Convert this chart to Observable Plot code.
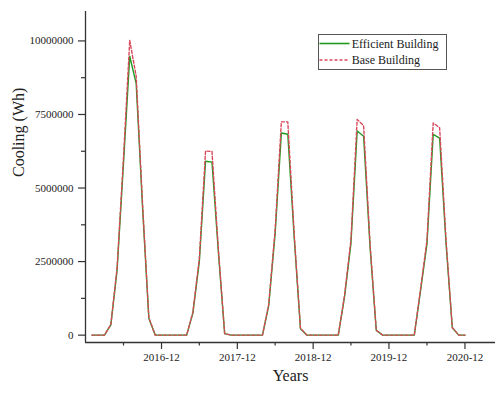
<!DOCTYPE html>
<html><head><meta charset="utf-8">
<script src="https://cdn.jsdelivr.net/npm/d3@7"></script>
<script src="https://cdn.jsdelivr.net/npm/@observablehq/plot@0.6"></script>
<style>
body{margin:0;background:#fff}
#wrap{position:relative;width:502px;height:397px}
#legend{position:absolute;left:318px;top:34px}
</style>
</head><body><div id="wrap"></div>
<script>
const months = [
 "2016-01","2016-02","2016-03","2016-04","2016-05","2016-06","2016-07","2016-08","2016-09","2016-10","2016-11","2016-12",
 "2017-01","2017-02","2017-03","2017-04","2017-05","2017-06","2017-07","2017-08","2017-09","2017-10","2017-11","2017-12",
 "2018-01","2018-02","2018-03","2018-04","2018-05","2018-06","2018-07","2018-08","2018-09","2018-10","2018-11","2018-12",
 "2019-01","2019-02","2019-03","2019-04","2019-05","2019-06","2019-07","2019-08","2019-09","2019-10","2019-11","2019-12",
 "2020-01","2020-02","2020-03","2020-04","2020-05","2020-06","2020-07","2020-08","2020-09","2020-10","2020-11","2020-12"
];
const efficient = [
 0,0,0,350000,2200000,5850000,9480000,8550000,4300000,570000,0,0,
 0,0,0,0,750000,2500000,5910000,5880000,2800000,50000,0,0,
 0,0,0,0,1000000,3450000,6870000,6830000,3300000,220000,0,0,
 0,0,0,0,1290000,3120000,6940000,6760000,3000000,160000,0,0,
 0,0,0,0,1500000,3100000,6820000,6700000,3100000,250000,0,0
];
const base = [
 0,0,0,360000,2280000,6050000,10020000,8800000,4420000,590000,0,0,
 0,0,0,0,780000,2600000,6260000,6240000,2900000,52000,0,0,
 0,0,0,0,1040000,3580000,7250000,7250000,3420000,230000,0,0,
 0,0,0,0,1340000,3240000,7330000,7120000,3110000,165000,0,0,
 0,0,0,0,1560000,3220000,7210000,7050000,3220000,260000,0,0
];
const seriesNames = ["Efficient Building", "Base Building"];
const xTickLabels = ["2016-12","2017-12","2018-12","2019-12","2020-12"];
const xMinorTicks = ["2016-06","2017-06","2018-06","2019-06","2020-06"];
const yTicks = [0, 2500000, 5000000, 7500000, 10000000];
const yMinorTicks = [1250000, 3750000, 6250000, 8750000];
const xDomainStr = ["2015-12-01", "2021-04-27"];
const yDomain = [-250000, 11000000];

const green = "#1f9a1f";
const red = "#d9485a";
const ink = "#222";
const font = "'Liberation Serif','Times New Roman',serif";

const pm = d3.utcParse("%Y-%m");
const pd = d3.utcParse("%Y-%m-%d");
const xDomain = xDomainStr.map(pd);
const effRows = months.map((m, i) => ({date: pm(m), value: efficient[i]}));
const baseRows = months.map((m, i) => ({date: pm(m), value: base[i]}));

const chart = Plot.plot({
  width: 502, height: 397,
  marginLeft: 85, marginRight: 7, marginTop: 11, marginBottom: 55,
  style: {fontFamily: font, fontSize: "11px", color: ink, background: "#fff"},
  x: {type: "utc", domain: xDomain},
  y: {domain: yDomain},
  marks: [
    Plot.axisY(yTicks, {tickSize: 7, tickPadding: 5, tickFormat: d3.format("d"), label: null, stroke: "#333", strokeWidth: 1.2}),
    Plot.axisY(yMinorTicks, {tickSize: 4, tickFormat: () => "", label: null, stroke: "#333", strokeWidth: 1.2}),
    Plot.axisX(xTickLabels.map(pm), {tickSize: 7, tickPadding: 4, tickFormat: d3.utcFormat("%Y-%m"), label: null, stroke: "#333", strokeWidth: 1.2}),
    Plot.axisX(xMinorTicks.map(pm), {tickSize: 3.5, tickFormat: () => "", label: null, stroke: "#333", strokeWidth: 1.2}),
    Plot.ruleX([xDomain[0]], {stroke: "#333", strokeWidth: 1.3}),
    Plot.ruleY([yDomain[0]], {stroke: "#333", strokeWidth: 1.3}),
    Plot.line(effRows, {x: "date", y: "value", stroke: green, strokeWidth: 1.4}),
    Plot.line(baseRows, {x: "date", y: "value", stroke: red, strokeWidth: 1.4, strokeDasharray: "3,2"}),
    Plot.text(["Years"], {text: d => d, frameAnchor: "bottom", dy: 38, fontSize: 16, fill: ink}),
    Plot.text(["Cooling (Wh)"], {text: d => d, frameAnchor: "left", dx: -67, rotate: -90, fontSize: 16, fill: ink})
  ]
});
const wrap = document.getElementById("wrap");
wrap.appendChild(chart);

const ns = "http://www.w3.org/2000/svg";
const leg = document.createElementNS(ns, "svg");
leg.setAttribute("id", "legend");
leg.setAttribute("width", 130);
leg.setAttribute("height", 37);
leg.setAttribute("font-family", font);
leg.setAttribute("font-size", "12");
leg.innerHTML = `
 <rect x="0.5" y="0.5" width="128" height="35" fill="#fff" stroke="#555" stroke-width="1"/>
 <line x1="1.5" x2="31.5" y1="9.5" y2="9.5" stroke="${green}" stroke-width="1.6"/>
 <text x="33.7" y="13.7" fill="${ink}">${seriesNames[0]}</text>
 <line x1="1.5" x2="31.5" y1="26" y2="26" stroke="${red}" stroke-width="1.4" stroke-dasharray="3,2"/>
 <text x="33.7" y="30" fill="${ink}">${seriesNames[1]}</text>`;
wrap.appendChild(leg);
</script>
</body></html>
